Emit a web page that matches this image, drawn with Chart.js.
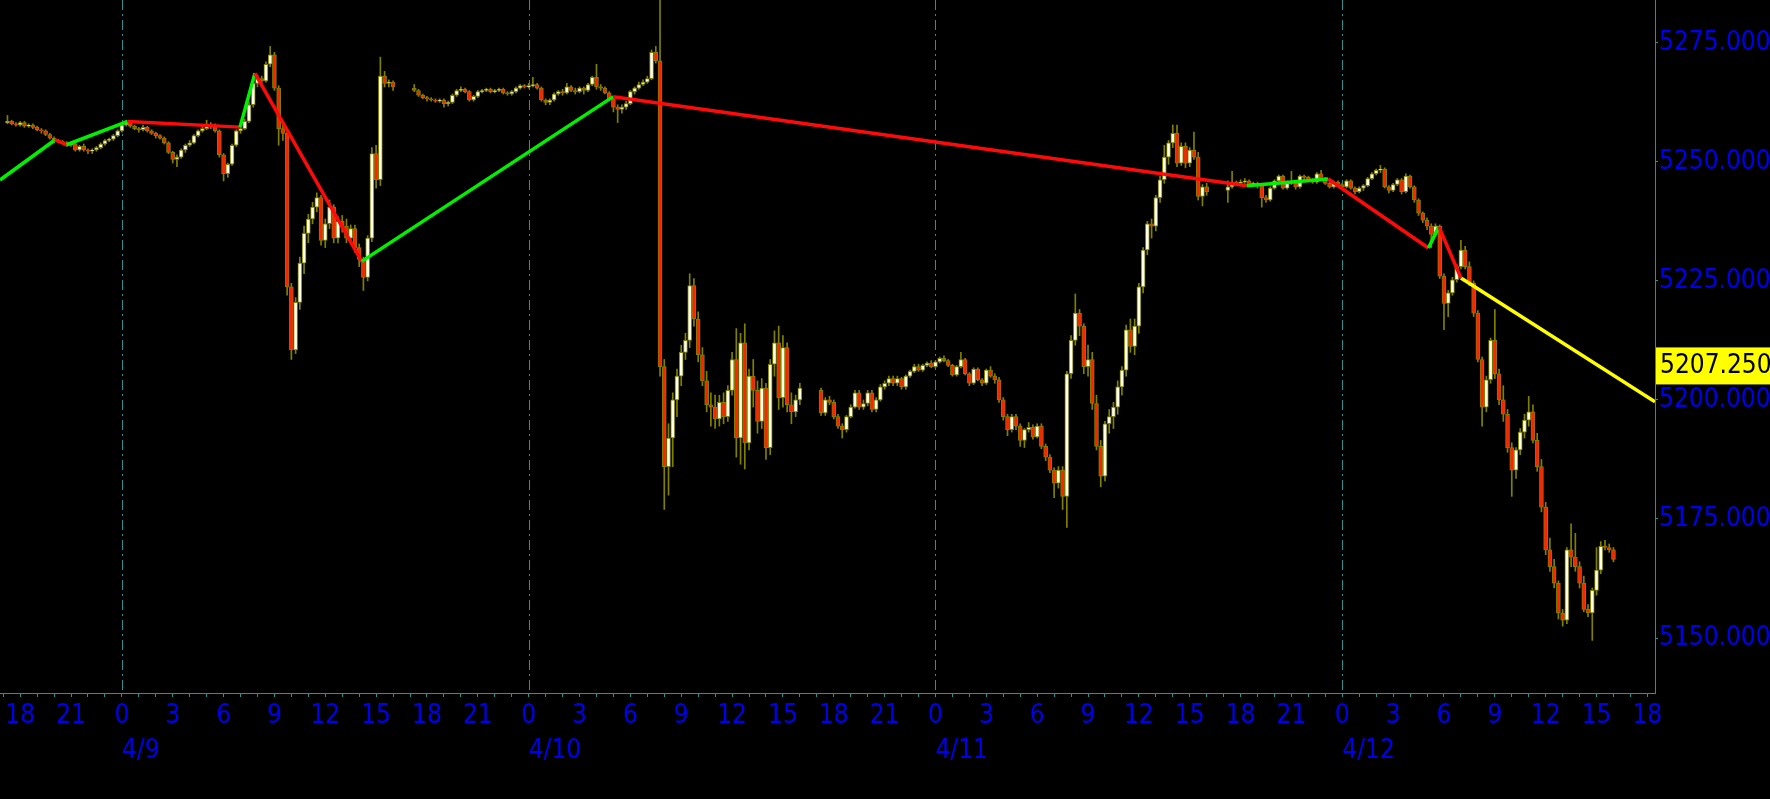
<!DOCTYPE html>
<html>
<head>
<meta charset="utf-8">
<script src="https://cdn.jsdelivr.net/npm/chart.js@4.4.1/dist/chart.umd.min.js"></script>
<style>
  html, body { margin: 0; padding: 0; background: #000; }
  #wrap { width: 1770px; height: 799px; position: relative; }
</style>
</head>
<body>
<div id="wrap"><canvas id="es-chart" width="1770" height="799"></canvas></div>
<script>
// x values are hours counted from 4/9 00:00; each bar sits at its close time
const sessionStarts = [-7, 17, 41, 65];
const barMinutes = 15;
const dayHours = [0, 24, 48, 72];
const dayLabels = ["4/9", "4/10", "4/11", "4/12"];
const hourLabelTicks = [-6, -3, 0, 3, 6, 9, 12, 15, 18, 21, 24, 27, 30, 33, 36, 39, 42, 45, 48,
    51, 54, 57, 60, 63, 66, 69, 72, 75, 78, 81, 84, 87, 90];
const priceTicks = [5150, 5175, 5200, 5225, 5250, 5275];
const lastPrice = 5207.25;

// session 1: 4/8 17:00 - 4/9 16:00 (one row per hour)
const opens1 = [
  5258.25, 5258.50, 5258.00, 5257.75,
  5258.25, 5257.50, 5257.75, 5257.25,
  5256.75, 5256.50, 5255.75, 5255.00,
  5254.50, 5254.25, 5254.00, 5253.50,
  5253.75, 5252.50, 5253.25, 5252.50,
  5252.25, 5252.50, 5253.00, 5253.75,
  5254.50, 5254.75, 5255.50, 5256.50,
  5257.75, 5258.25, 5257.50, 5257.00,
  5256.75, 5257.25, 5256.50, 5256.00,
  5255.50, 5255.00, 5254.00, 5252.00,
  5250.50, 5251.00, 5252.50, 5253.50,
  5254.00, 5255.50, 5256.50, 5257.00,
  5257.50, 5257.75, 5256.50, 5251.50,
  5247.50, 5249.50, 5253.50, 5256.50,
  5257.00, 5258.50, 5262.00, 5266.50,
  5267.50, 5267.00, 5270.50, 5272.50,
  5265.50, 5257.00, 5256.00, 5223.75,
  5210.50, 5220.50, 5228.75, 5235.00,
  5238.00, 5240.50, 5242.50, 5233.50,
  5237.00, 5240.50, 5234.00, 5237.50,
  5236.50, 5234.00, 5236.00, 5232.00,
  5229.50, 5225.75, 5234.00, 5251.75,
  5246.25, 5268.00, 5266.50, 5266.75
];
const highs1 = [
  5259.75, 5258.75, 5258.25, 5258.50,
  5258.50, 5258.00, 5258.00, 5257.50,
  5257.00, 5256.75, 5256.00, 5255.25,
  5254.75, 5254.50, 5254.25, 5254.00,
  5254.00, 5253.50, 5253.75, 5252.75,
  5252.75, 5253.25, 5254.00, 5254.75,
  5255.00, 5255.75, 5256.75, 5258.00,
  5258.75, 5258.50, 5257.75, 5257.25,
  5257.75, 5257.50, 5256.75, 5256.25,
  5255.75, 5255.25, 5254.25, 5252.25,
  5251.50, 5252.75, 5253.75, 5254.50,
  5255.75, 5256.75, 5257.50, 5258.75,
  5258.25, 5258.00, 5256.75, 5251.75,
  5249.75, 5253.75, 5256.75, 5257.50,
  5259.00, 5262.50, 5267.00, 5268.25,
  5268.00, 5271.00, 5274.25, 5273.00,
  5266.00, 5258.50, 5256.50, 5224.50,
  5221.50, 5230.00, 5236.50, 5239.00,
  5241.50, 5243.50, 5243.00, 5238.00,
  5242.00, 5241.00, 5238.50, 5238.75,
  5238.00, 5236.75, 5236.75, 5232.75,
  5230.00, 5234.50, 5253.00, 5253.50,
  5272.00, 5269.00, 5267.25, 5267.00
];
const lows1 = [
  5258.00, 5257.75, 5257.50, 5257.50,
  5257.25, 5257.25, 5257.00, 5256.50,
  5256.00, 5255.50, 5254.75, 5254.00,
  5254.00, 5253.75, 5253.25, 5253.25,
  5252.25, 5252.25, 5252.25, 5251.75,
  5251.75, 5252.25, 5252.75, 5253.50,
  5254.25, 5254.50, 5255.25, 5256.25,
  5257.50, 5257.25, 5256.75, 5256.25,
  5256.50, 5256.25, 5255.75, 5255.00,
  5254.75, 5253.75, 5251.75, 5249.75,
  5249.00, 5250.75, 5252.00, 5253.25,
  5253.75, 5255.25, 5256.25, 5256.75,
  5257.00, 5256.25, 5251.00, 5246.00,
  5246.75, 5249.25, 5253.25, 5256.00,
  5256.75, 5258.25, 5261.50, 5265.75,
  5266.00, 5266.75, 5270.00, 5265.00,
  5253.50, 5254.50, 5222.00, 5208.50,
  5209.75, 5219.00, 5226.50, 5233.00,
  5237.00, 5239.50, 5232.50, 5232.00,
  5236.00, 5233.00, 5233.00, 5235.25,
  5233.00, 5233.25, 5231.00, 5228.00,
  5223.00, 5225.00, 5233.25, 5244.50,
  5245.00, 5265.75, 5265.75, 5265.00
];
const closes1 = [
  5258.50, 5258.00, 5257.75, 5258.25,
  5257.50, 5257.75, 5257.25, 5256.75,
  5256.50, 5255.75, 5255.00, 5254.50,
  5254.25, 5254.00, 5253.50, 5253.75,
  5252.50, 5253.25, 5252.50, 5252.25,
  5252.50, 5253.00, 5253.75, 5254.50,
  5254.75, 5255.50, 5256.50, 5257.75,
  5258.25, 5257.50, 5257.00, 5256.75,
  5257.25, 5256.50, 5256.00, 5255.50,
  5255.00, 5254.00, 5252.00, 5250.50,
  5251.00, 5252.50, 5253.50, 5254.00,
  5255.50, 5256.50, 5257.00, 5257.50,
  5257.75, 5256.50, 5251.50, 5247.50,
  5249.50, 5253.50, 5256.50, 5257.00,
  5258.50, 5262.00, 5266.50, 5267.50,
  5267.00, 5270.50, 5272.50, 5265.50,
  5257.00, 5256.00, 5223.75, 5210.50,
  5220.50, 5228.75, 5235.00, 5238.00,
  5240.50, 5242.50, 5233.50, 5237.00,
  5240.50, 5234.00, 5237.50, 5236.50,
  5234.00, 5236.00, 5232.00, 5229.50,
  5225.75, 5234.00, 5251.75, 5246.25,
  5268.00, 5266.50, 5266.75, 5265.75
];

// session 2: 4/9 17:00 - 4/10 16:00
const opens2 = [
  5265.50, 5265.00, 5264.00, 5263.50,
  5263.25, 5263.00, 5262.75, 5263.00,
  5262.25, 5262.50, 5264.00, 5265.00,
  5265.25, 5264.75, 5263.00, 5263.75,
  5264.75, 5265.00, 5265.25, 5264.75,
  5265.00, 5265.25, 5264.50, 5264.25,
  5264.75, 5265.50, 5266.00, 5265.75,
  5266.00, 5266.25, 5265.50, 5263.00,
  5262.50, 5263.00, 5264.25, 5264.75,
  5264.50, 5265.75, 5265.00, 5264.75,
  5265.50, 5265.00, 5266.25, 5267.75,
  5265.75, 5265.50, 5264.50, 5263.25,
  5261.50, 5261.00, 5261.50, 5262.25,
  5264.75, 5265.50, 5266.25, 5266.75,
  5267.50, 5273.00, 5271.25, 5207.00,
  5186.00, 5192.00, 5200.00, 5205.00,
  5210.00, 5212.50, 5224.00, 5217.00,
  5209.50, 5204.00, 5199.00, 5198.50,
  5196.00, 5199.50, 5196.50, 5202.00,
  5208.50, 5192.00, 5212.00, 5191.00,
  5205.00, 5202.00, 5195.50, 5202.50,
  5190.00, 5207.50, 5212.00, 5200.50,
  5211.00, 5199.00, 5197.50, 5200.00
];
const highs2 = [
  5266.25, 5265.25, 5264.25, 5263.75,
  5263.50, 5263.25, 5263.25, 5263.25,
  5262.75, 5264.25, 5265.25, 5265.75,
  5265.50, 5265.00, 5264.00, 5265.00,
  5265.25, 5265.50, 5265.50, 5265.25,
  5265.50, 5265.50, 5264.75, 5265.00,
  5265.75, 5266.25, 5266.25, 5266.50,
  5267.75, 5266.50, 5265.75, 5263.25,
  5263.25, 5264.50, 5265.00, 5265.25,
  5266.50, 5266.00, 5265.50, 5265.75,
  5265.75, 5266.50, 5268.00, 5270.50,
  5266.25, 5265.75, 5264.75, 5263.50,
  5262.00, 5262.00, 5262.75, 5265.00,
  5265.75, 5266.75, 5267.25, 5268.00,
  5273.50, 5274.25, 5290.00, 5208.50,
  5195.00, 5201.50, 5206.50, 5211.50,
  5214.00, 5226.50, 5225.50, 5218.50,
  5211.00, 5206.00, 5201.50, 5201.00,
  5201.00, 5201.50, 5203.00, 5210.00,
  5215.00, 5214.00, 5216.00, 5206.50,
  5208.50, 5204.00, 5204.50, 5203.50,
  5208.50, 5214.50, 5215.50, 5213.50,
  5212.00, 5201.50, 5201.00, 5203.50
];
const lows2 = [
  5264.75, 5263.75, 5263.25, 5262.75,
  5262.75, 5262.50, 5262.50, 5261.50,
  5261.75, 5262.25, 5263.75, 5264.75,
  5264.50, 5262.75, 5262.75, 5263.50,
  5264.50, 5264.75, 5264.50, 5264.50,
  5264.75, 5264.25, 5264.00, 5264.00,
  5264.50, 5265.25, 5265.50, 5265.50,
  5265.75, 5265.25, 5262.75, 5262.00,
  5262.00, 5262.75, 5264.00, 5264.00,
  5264.25, 5264.75, 5264.25, 5264.50,
  5264.25, 5264.75, 5266.00, 5265.25,
  5265.00, 5264.25, 5263.00, 5260.50,
  5258.25, 5260.25, 5261.00, 5262.00,
  5264.25, 5265.25, 5266.00, 5266.50,
  5267.25, 5270.75, 5205.00, 5177.00,
  5180.00, 5186.00, 5196.50, 5203.00,
  5208.50, 5211.00, 5215.50, 5208.00,
  5203.00, 5197.50, 5194.50, 5194.00,
  5194.50, 5195.00, 5195.50, 5201.00,
  5188.00, 5186.50, 5185.50, 5189.50,
  5198.50, 5193.00, 5194.00, 5187.50,
  5188.50, 5205.00, 5198.00, 5198.50,
  5197.50, 5195.00, 5196.50, 5199.00
];
const closes2 = [
  5265.00, 5264.00, 5263.50, 5263.25,
  5263.00, 5262.75, 5263.00, 5262.25,
  5262.50, 5264.00, 5265.00, 5265.25,
  5264.75, 5263.00, 5263.75, 5264.75,
  5265.00, 5265.25, 5264.75, 5265.00,
  5265.25, 5264.50, 5264.25, 5264.75,
  5265.50, 5266.00, 5265.75, 5266.00,
  5266.25, 5265.50, 5263.00, 5262.50,
  5263.00, 5264.25, 5264.75, 5264.50,
  5265.75, 5265.00, 5264.75, 5265.50,
  5265.00, 5266.25, 5267.75, 5265.75,
  5265.50, 5264.50, 5263.25, 5261.50,
  5261.00, 5261.50, 5262.25, 5264.75,
  5265.50, 5266.25, 5266.75, 5267.50,
  5273.00, 5271.25, 5207.00, 5186.00,
  5192.00, 5200.00, 5205.00, 5210.00,
  5212.50, 5224.00, 5217.00, 5209.50,
  5204.00, 5199.00, 5198.50, 5196.00,
  5199.50, 5196.50, 5202.00, 5208.50,
  5192.00, 5212.00, 5191.00, 5205.00,
  5202.00, 5195.50, 5202.50, 5190.00,
  5207.50, 5212.00, 5200.50, 5211.00,
  5199.00, 5197.50, 5200.00, 5202.50
];

// session 3: 4/10 17:00 - 4/11 16:00
const opens3 = [
  5202.00, 5197.25, 5200.00, 5199.50,
  5196.50, 5194.50, 5193.75, 5196.50,
  5198.50, 5201.50, 5198.50, 5199.25,
  5201.50, 5198.00, 5200.00, 5202.75,
  5203.50, 5204.50, 5203.50, 5204.50,
  5202.75, 5205.00, 5206.00, 5207.00,
  5206.25, 5207.25, 5207.75, 5207.00,
  5208.00, 5208.75, 5208.25, 5207.25,
  5205.25, 5207.00, 5208.50, 5205.50,
  5203.50, 5206.50, 5204.25, 5203.50,
  5206.25, 5205.00, 5204.25, 5200.00,
  5196.50, 5193.75, 5196.50, 5194.50,
  5191.50, 5193.75, 5194.25, 5192.25,
  5194.50, 5190.25, 5188.00, 5185.25,
  5182.50, 5185.25, 5179.75, 5205.50,
  5212.50, 5218.25, 5215.50, 5207.00,
  5208.50, 5199.25, 5190.25, 5184.00,
  5195.00, 5196.50, 5198.50, 5202.75,
  5206.25, 5214.75, 5211.25, 5215.50,
  5223.75, 5231.50, 5237.00, 5236.50,
  5242.50, 5246.25, 5251.00, 5254.00,
  5256.00, 5249.75, 5253.25, 5249.75,
  5252.50, 5251.00, 5242.75, 5244.75
];
const highs3 = [
  5202.50, 5200.50, 5200.75, 5200.00,
  5197.00, 5195.00, 5196.75, 5199.00,
  5202.00, 5202.00, 5200.00, 5202.00,
  5202.00, 5200.50, 5203.25, 5204.00,
  5205.00, 5205.00, 5205.00, 5204.75,
  5205.25, 5206.25, 5207.50, 5207.50,
  5207.50, 5208.00, 5208.25, 5208.25,
  5209.00, 5209.25, 5208.50, 5207.50,
  5207.25, 5210.00, 5208.75, 5205.75,
  5206.75, 5206.75, 5204.50, 5206.50,
  5207.00, 5205.50, 5204.75, 5200.50,
  5197.00, 5197.00, 5197.00, 5195.00,
  5194.00, 5195.25, 5194.75, 5195.00,
  5195.00, 5190.75, 5188.50, 5185.75,
  5186.00, 5186.00, 5206.00, 5213.50,
  5222.25, 5219.00, 5216.00, 5211.50,
  5210.00, 5201.00, 5191.50, 5195.50,
  5198.00, 5199.50, 5204.00, 5207.00,
  5215.75, 5217.00, 5217.00, 5224.50,
  5232.00, 5237.50, 5238.00, 5243.00,
  5247.00, 5253.50, 5254.50, 5257.75,
  5257.75, 5254.00, 5254.00, 5253.00,
  5256.25, 5252.00, 5245.25, 5245.50
];
const lows3 = [
  5196.75, 5196.75, 5199.00, 5196.00,
  5194.00, 5192.00, 5193.25, 5196.25,
  5198.25, 5198.00, 5198.00, 5198.75,
  5197.50, 5197.50, 5199.75, 5202.25,
  5203.00, 5203.00, 5203.00, 5202.25,
  5202.25, 5204.75, 5205.75, 5206.00,
  5206.00, 5207.00, 5206.75, 5206.75,
  5207.75, 5208.00, 5207.00, 5205.00,
  5205.00, 5206.75, 5205.25, 5203.00,
  5203.25, 5204.00, 5203.00, 5203.25,
  5204.75, 5203.50, 5199.50, 5195.75,
  5192.50, 5193.25, 5193.75, 5190.25,
  5190.00, 5193.25, 5191.75, 5192.00,
  5189.75, 5187.25, 5184.75, 5179.50,
  5181.50, 5177.00, 5173.25, 5204.50,
  5211.50, 5213.50, 5205.50, 5205.00,
  5198.00, 5189.50, 5181.75, 5183.00,
  5193.00, 5194.00, 5197.00, 5201.00,
  5205.00, 5210.00, 5209.50, 5214.00,
  5222.50, 5230.50, 5234.00, 5235.50,
  5241.50, 5245.50, 5249.50, 5253.00,
  5249.00, 5249.25, 5248.75, 5249.00,
  5250.50, 5242.00, 5240.75, 5243.00
];
const closes3 = [
  5197.25, 5200.00, 5199.50, 5196.50,
  5194.50, 5193.75, 5196.50, 5198.50,
  5201.50, 5198.50, 5199.25, 5201.50,
  5198.00, 5200.00, 5202.75, 5203.50,
  5204.50, 5203.50, 5204.50, 5202.75,
  5205.00, 5206.00, 5207.00, 5206.25,
  5207.25, 5207.75, 5207.00, 5208.00,
  5208.75, 5208.25, 5207.25, 5205.25,
  5207.00, 5208.50, 5205.50, 5203.50,
  5206.50, 5204.25, 5203.50, 5206.25,
  5205.00, 5204.25, 5200.00, 5196.50,
  5193.75, 5196.50, 5194.50, 5191.50,
  5193.75, 5194.25, 5192.25, 5194.50,
  5190.25, 5188.00, 5185.25, 5182.50,
  5185.25, 5179.75, 5205.50, 5212.50,
  5218.25, 5215.50, 5207.00, 5208.50,
  5199.25, 5190.25, 5184.00, 5195.00,
  5196.50, 5198.50, 5202.75, 5206.25,
  5214.75, 5211.25, 5215.50, 5223.75,
  5231.50, 5237.00, 5236.50, 5242.50,
  5246.25, 5251.00, 5254.00, 5256.00,
  5249.75, 5253.25, 5249.75, 5252.50,
  5251.00, 5242.75, 5244.75, 5243.75
];

// session 4: 4/11 17:00 - 4/12 16:00
const opens4 = [
  5244.00, 5244.75, 5245.75, 5245.50,
  5245.75, 5246.00, 5245.25, 5245.50,
  5245.00, 5242.50, 5242.00, 5244.50,
  5246.00, 5247.00, 5244.50, 5245.75,
  5245.50, 5244.75, 5247.00, 5246.75,
  5246.25, 5245.75, 5247.50, 5246.50,
  5245.50, 5244.75, 5245.75, 5245.25,
  5244.75, 5246.00, 5244.50, 5243.75,
  5244.50, 5245.00, 5246.50, 5247.50,
  5248.25, 5248.50, 5244.75, 5244.00,
  5245.25, 5246.25, 5243.75, 5247.00,
  5244.75, 5242.00, 5239.25, 5237.75,
  5236.50, 5234.75, 5236.50, 5226.00,
  5220.25, 5222.50, 5225.25, 5228.00,
  5231.50, 5228.00, 5224.50, 5218.25,
  5208.50, 5198.50, 5204.25, 5212.50,
  5205.50, 5200.00, 5197.00, 5190.00,
  5185.25, 5189.50, 5193.25, 5195.75,
  5197.50, 5191.50, 5186.00, 5177.50,
  5168.50, 5165.00, 5161.50, 5155.25,
  5153.75, 5168.50, 5167.00, 5165.00,
  5161.50, 5156.00, 5155.25, 5160.00,
  5164.25, 5169.25, 5169.00, 5168.50
];
const highs4 = [
  5246.00, 5248.00, 5246.00, 5246.25,
  5246.50, 5246.25, 5245.75, 5245.75,
  5245.25, 5243.00, 5244.75, 5246.25,
  5247.25, 5247.25, 5246.00, 5248.00,
  5246.00, 5247.25, 5247.25, 5247.00,
  5246.50, 5247.75, 5248.25, 5246.75,
  5245.75, 5246.00, 5246.00, 5245.50,
  5246.25, 5246.25, 5244.75, 5244.75,
  5245.25, 5246.75, 5247.75, 5248.50,
  5249.25, 5248.75, 5245.00, 5245.50,
  5246.50, 5246.50, 5247.50, 5247.25,
  5245.00, 5242.25, 5239.50, 5238.25,
  5237.00, 5237.00, 5236.75, 5226.50,
  5223.00, 5225.75, 5228.50, 5233.50,
  5232.25, 5229.00, 5225.00, 5218.75,
  5209.00, 5205.00, 5213.00, 5219.00,
  5206.50, 5203.00, 5198.00, 5191.00,
  5190.00, 5194.00, 5197.00, 5200.75,
  5199.00, 5193.00, 5187.50, 5178.50,
  5171.00, 5166.50, 5162.00, 5156.00,
  5169.00, 5174.00, 5172.00, 5166.00,
  5163.00, 5157.00, 5160.50, 5169.00,
  5170.25, 5170.50, 5169.75, 5169.00
];
const lows4 = [
  5241.50, 5244.50, 5245.25, 5245.25,
  5245.50, 5245.00, 5245.00, 5244.50,
  5240.50, 5241.50, 5241.75, 5244.25,
  5245.75, 5244.25, 5244.25, 5245.25,
  5244.25, 5244.50, 5246.25, 5246.00,
  5245.50, 5245.50, 5246.25, 5245.25,
  5244.50, 5244.50, 5245.00, 5244.50,
  5244.50, 5244.25, 5243.25, 5243.50,
  5244.00, 5244.75, 5246.25, 5247.25,
  5247.75, 5244.50, 5243.50, 5243.75,
  5245.00, 5243.25, 5243.50, 5244.50,
  5241.50, 5238.75, 5237.25, 5235.75,
  5232.00, 5234.25, 5225.50, 5214.75,
  5217.50, 5222.00, 5224.75, 5227.50,
  5227.50, 5224.00, 5217.50, 5208.00,
  5194.50, 5197.50, 5203.50, 5204.50,
  5199.00, 5195.50, 5189.00, 5179.75,
  5183.50, 5188.50, 5192.00, 5194.50,
  5191.00, 5185.00, 5176.50, 5167.50,
  5164.00, 5160.50, 5154.00, 5152.50,
  5153.00, 5165.00, 5164.00, 5160.50,
  5155.50, 5154.50, 5149.50, 5159.00,
  5163.50, 5168.50, 5168.00, 5166.00
];
const closes4 = [
  5244.75, 5245.75, 5245.50, 5245.75,
  5246.00, 5245.25, 5245.50, 5245.00,
  5242.50, 5242.00, 5244.50, 5246.00,
  5247.00, 5244.50, 5245.75, 5245.50,
  5244.75, 5247.00, 5246.75, 5246.25,
  5245.75, 5247.50, 5246.50, 5245.50,
  5244.75, 5245.75, 5245.25, 5244.75,
  5246.00, 5244.50, 5243.75, 5244.50,
  5245.00, 5246.50, 5247.50, 5248.25,
  5248.50, 5244.75, 5244.00, 5245.25,
  5246.25, 5243.75, 5247.00, 5244.75,
  5242.00, 5239.25, 5237.75, 5236.50,
  5234.75, 5236.50, 5226.00, 5220.25,
  5222.50, 5225.25, 5228.00, 5231.50,
  5228.00, 5224.50, 5218.25, 5208.50,
  5198.50, 5204.25, 5212.50, 5205.50,
  5200.00, 5197.00, 5190.00, 5185.25,
  5189.50, 5193.25, 5195.75, 5197.50,
  5191.50, 5186.00, 5177.50, 5168.50,
  5165.00, 5161.50, 5155.25, 5153.75,
  5168.50, 5167.00, 5165.00, 5161.50,
  5156.00, 5155.25, 5160.00, 5164.25,
  5169.25, 5169.00, 5168.50, 5166.50
];

// swing line (hours, price) and its projected leg
const swingTimes = [-7.19, -3.95, -3.26, 0.34, 6.97, 7.85, 14.15, 28.99, 66.36, 71.17, 77.08, 77.7, 79.0];
const swingValues = [5246.2, 5254.6, 5253.6, 5258.5, 5257.3, 5268.6, 5229.1, 5263.7, 5245.0, 5246.4, 5231.9, 5236.4, 5225.6];
const projTimes = [79.0, 90.45];
const projValues = [5225.6, 5199.6];

const BLUE = "#0000ee";
const TEAL = "#2f8f8f";
const OLIVE = "#808000";
const BULL = "#ffffea";
const BEAR = "#ff2200";
const FONT = '"DejaVu Sans Condensed", "Liberation Sans", sans-serif';

const opens = [...opens1, ...opens2, ...opens3, ...opens4];
const highs = [...highs1, ...highs2, ...highs3, ...highs4];
const lows = [...lows1, ...lows2, ...lows3, ...lows4];
const closes = [...closes1, ...closes2, ...closes3, ...closes4];
const barsPerSession = closes1.length;

const times = [];
sessionStarts.forEach((start) => {
    for (let k = 1; k <= barsPerSession; k++) {
        times.push(start + (k * barMinutes) / 60);
    }
});

const hourTicks = [];
for (let h = -7; h <= 90; h++) hourTicks.push(h);

function drawChart() {
    const chartEl = document.getElementById("es-chart");
    const ctx = chartEl.getContext("2d");

    const wickData = times.map((t, i) => ({ x: t, y: [lows[i], highs[i]] }));
    const bodyData = times.map((t, i) => ({ x: t, y: [opens[i], closes[i]] }));
    const bodyColors = closes.map((c, i) => (c >= opens[i] ? BULL : BEAR));

    // midnight dashes, hour + date rows and last-price box
    const overlay = {
        id: "overlay",
        beforeDatasetsDraw(chart) {
            const { ctx, chartArea, scales } = chart;
            ctx.save();
            ctx.strokeStyle = TEAL;
            ctx.lineWidth = 1;
            ctx.setLineDash([10, 4, 2, 4]);
            dayHours.forEach((d) => {
                const px = Math.round(scales.x.getPixelForValue(d)) + 0.5;
                ctx.beginPath();
                ctx.moveTo(px, chartArea.top);
                ctx.lineTo(px, chartArea.bottom);
                ctx.stroke();
            });
            ctx.restore();
        },
        afterDraw(chart) {
            const { ctx, scales } = chart;
            ctx.save();
            ctx.font = "26px " + FONT;
            ctx.fillStyle = BLUE;
            ctx.textBaseline = "alphabetic";
            ctx.textAlign = "center";
            hourLabelTicks.forEach((h) => {
                const label = String(((h % 24) + 24) % 24);
                ctx.fillText(label, scales.x.getPixelForValue(h), 723);
            });
            ctx.textAlign = "left";
            dayHours.forEach((d, i) => {
                ctx.fillText(dayLabels[i], scales.x.getPixelForValue(d), 758);
            });
            const py = scales.y.getPixelForValue(lastPrice);
            ctx.fillStyle = "#ffff00";
            ctx.fillRect(scales.y.left + 1, py - 18, 120, 37);
            ctx.fillStyle = "#000";
            ctx.textBaseline = "middle";
            ctx.fillText(lastPrice.toFixed(3), scales.y.left + 5, py + 1);
            ctx.restore();
        },
    };

    const config = {
        type: "bar",
        data: {
            datasets: [
                {
                    type: "line",
                    data: swingTimes.map((t, i) => ({ x: t, y: swingValues[i] })),
                    borderWidth: 3.5,
                    pointRadius: 0,
                    segment: {
                        borderColor: (c) => (c.p1.parsed.y >= c.p0.parsed.y ? "#00f000" : "#ff0a0a"),
                    },
                    order: 1,
                },
                {
                    type: "line",
                    data: projTimes.map((t, i) => ({ x: t, y: projValues[i] })),
                    borderColor: "#ffff00",
                    borderWidth: 3.5,
                    pointRadius: 0,
                    order: 1,
                },
                {
                    data: bodyData,
                    backgroundColor: bodyColors,
                    borderColor: OLIVE,
                    borderWidth: 1,
                    borderSkipped: false,
                    barThickness: 4,
                    grouped: false,
                    order: 2,
                },
                {
                    data: wickData,
                    backgroundColor: OLIVE,
                    borderWidth: 0,
                    barThickness: 1,
                    grouped: false,
                    order: 3,
                },
            ],
        },
        options: {
            responsive: false,
            animation: false,
            devicePixelRatio: 1,
            layout: { padding: 0 },
            plugins: { legend: { display: false }, tooltip: { enabled: false } },
            scales: {
                x: {
                    type: "linear",
                    offset: false,
                    min: -7.19,
                    max: 90.45,
                    afterBuildTicks: (scale) => {
                        scale.ticks = hourTicks.map((v) => ({ value: v }));
                    },
                    afterFit: (scale) => {
                        scale.height = 106;
                        scale.paddingLeft = 0;
                        scale.paddingRight = 0;
                    },
                    ticks: { display: false, autoSkip: false },
                    grid: { offset: false, drawOnChartArea: false, tickLength: 4, color: TEAL },
                    border: { color: TEAL, width: 1 },
                },
                y: {
                    position: "right",
                    min: 5138.45,
                    max: 5284.0,
                    afterBuildTicks: (scale) => {
                        scale.ticks = priceTicks.map((v) => ({ value: v }));
                    },
                    afterFit: (scale) => {
                        scale.width = 115;
                        scale.paddingTop = 0;
                        scale.paddingBottom = 0;
                    },
                    ticks: {
                        color: BLUE,
                        padding: 1,
                        font: { size: 26, family: FONT },
                        callback: (v) => v.toFixed(3),
                    },
                    grid: { drawOnChartArea: false, tickLength: 3, color: TEAL },
                    border: { color: TEAL, width: 1 },
                },
            },
        },
        plugins: [overlay],
    };

    new Chart(ctx, config);
}

document.addEventListener("DOMContentLoaded", drawChart);
</script>
</body>
</html>
